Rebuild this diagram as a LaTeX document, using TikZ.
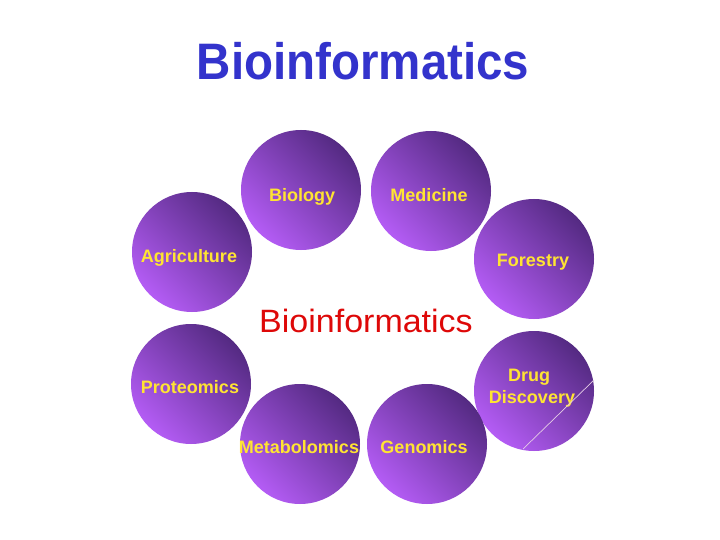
\documentclass[tikz,border=0pt]{standalone}
\usepackage{fontspec}
\setmainfont{Liberation Sans}
\definecolor{titleblue}{RGB}{51,51,204}
\definecolor{centerred}{RGB}{222,8,8}
\definecolor{labelyellow}{RGB}{255,228,50}
\definecolor{balldark}{RGB}{84,42,130}
\definecolor{balllight}{RGB}{180,92,245}
\begin{document}
\begin{tikzpicture}[x=1pt,y=-1pt,
  ball/.style={circle, minimum size=120pt, inner sep=0pt, top color=balldark, bottom color=balllight, shading angle=-45},
  balltext/.style={font=\fontsize{18}{22}\selectfont\bfseries, text=labelyellow, anchor=base, inner sep=0pt}]
\useasboundingbox[fill=white] (0,0) rectangle (720,540);
% title
\node[font=\fontsize{47.5}{56}\selectfont\bfseries, text=titleblue, anchor=base, inner sep=0pt] (title) at (363,80) {\scalebox{1}[1.08]{Bioinformatics}};
% circles
\node[ball] (biology) at (301,190) {};
\node[ball] (medicine) at (431,191) {};
\node[ball] (agriculture) at (192,252) {};
\node[ball] (forestry) at (534,259) {};
\node[ball] (proteomics) at (191,384) {};
\node[ball] (drug) at (534,391) {};
\node[ball] (metabolomics) at (300,444) {};
\node[ball] (genomics) at (427,444) {};
% labels
\node[balltext] (tbiology) at (302,202) {Biology};
\node[balltext] (tmedicine) at (429,202) {Medicine};
\node[balltext] (tagriculture) at (189,262) {Agriculture};
\node[balltext] (tforestry) at (533,266) {Forestry};
\node[balltext] (tproteomics) at (190,393) {Proteomics};
\node[balltext] (tmetabolomics) at (299,453) {Metabolomics};
\node[balltext] (tgenomics) at (424,453) {Genomics};
\node[balltext] (tdrug) at (529,381) {Drug};
\node[balltext] (tdiscovery) at (532,403) {Discovery};
% centre text
\node[font=\fontsize{34}{38}\selectfont, text=centerred, anchor=base, inner sep=0pt] (centre) at (366,332) {\scalebox{1}[0.95]{Bioinformatics}};
% diagonal line
\coordinate (lineA) at (523,449);
\coordinate (lineB) at (594,380);
\draw[white!80!violet, line width=0.7pt] (lineA) -- (lineB);
\end{tikzpicture}
\end{document}
